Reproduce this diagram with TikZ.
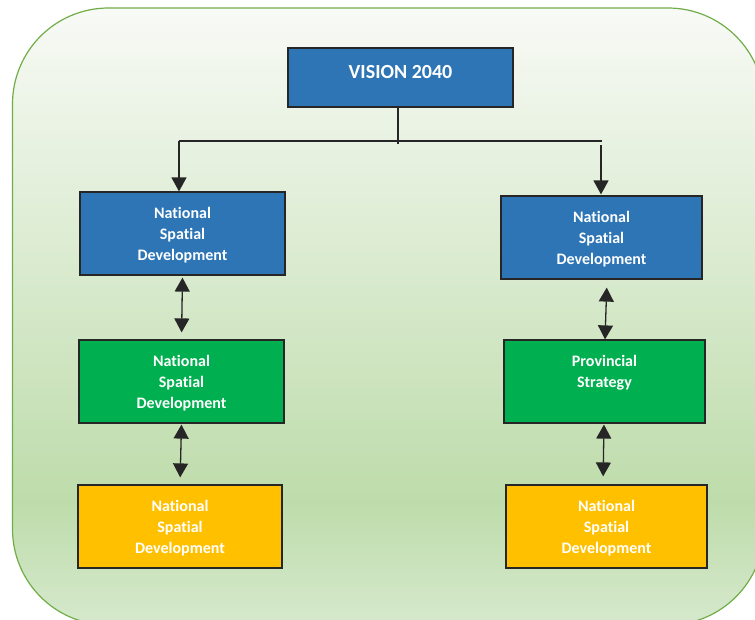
\documentclass[tikz,border=0pt]{standalone}
\usepackage{fontspec}
\setmainfont{Carlito}[Ligatures=NoCommon]
\usetikzlibrary{arrows.meta,positioning}

\definecolor{visionblue}{HTML}{2E75B6}
\definecolor{plangreen}{HTML}{00B050}
\definecolor{planyellow}{HTML}{FFC000}
\definecolor{frameborder}{HTML}{70AD47}
\definecolor{bgtop}{HTML}{F8FAF6}
\definecolor{bgmid}{HTML}{BEDCAB}
\definecolor{bgbot}{HTML}{D6E9CD}
\definecolor{linkgray}{HTML}{262626}

\pgfdeclareverticalshading{framefill}{100bp}{color(0bp)=(bgbot); color(25bp)=(bgbot); color(35bp)=(bgmid); color(75bp)=(bgtop); color(100bp)=(bgtop)}

\tikzset{
  planbox/.style={draw=linkgray, line width=1.2pt, inner sep=0pt, text=white, align=center,
    minimum height=83pt, font=\bfseries\fontsize{16}{21}\selectfont},
  levelbox/.style={planbox, text depth=-2.5pt},
  connector/.style={draw=linkgray, line width=1.3pt},
  downarrow/.style={connector, -{Triangle[width=15pt,length=14pt]}},
  twoarrow/.style={connector, {Triangle[width=15pt,length=14pt]}-{Triangle[width=15pt,length=14pt]}}
}

\begin{document}
\begin{tikzpicture}[x=1pt,y=-1pt]
			\useasboundingbox (0,0) rectangle (755,619);

			% rounded frame behind everything
			\begin{scope}
				\clip (0,0) rectangle (755,619);
				\path[shading=framefill, draw=frameborder, line width=1.2pt, rounded corners=96pt]
					(12.5,8) rectangle (764,625);
			\end{scope}

			% boxes
			\node[planbox, fill=visionblue, minimum width=225pt, minimum height=59pt,
				text depth=11pt, font=\bfseries\fontsize{20}{24}\selectfont] (vision) at (400.5,77.5) {VISION 2040};

			\node[levelbox, fill=visionblue, minimum width=205pt] (leftnat) at (182.5,233.5) {National\\Spatial\\Development};
			\node[levelbox, fill=plangreen, minimum width=205pt] (leftmid) at (181.5,381.5) {National\\Spatial\\Development};
			\node[levelbox, fill=planyellow, minimum width=204pt] (leftlow) at (180,526.5) {National\\Spatial\\Development};

			\node[levelbox, fill=visionblue, minimum width=201pt] (rightnat) at (601.5,237.5) {National\\Spatial\\Development};
			\node[levelbox, fill=plangreen, minimum width=201pt] (rightmid) at (604.5,381.5) {Provincial\\Strategy\\\vphantom{p}};
			\node[levelbox, fill=planyellow, minimum width=201pt] (rightlow) at (606.5,526.5) {National\\Spatial\\Development};

			% split below the vision box
			\coordinate (split) at (398,144);
			\coordinate (leftcorner) at (179,141);
			\coordinate (rightcorner) at (602,141);
			\coordinate (rightdrop) at (601,145);

			\draw[connector] (vision.south -| split) -- (split);
			\draw[connector] (leftcorner) -- (rightcorner);
			\draw[downarrow] (leftcorner) -- (leftcorner |- leftnat.north);
			\draw[downarrow, shorten >=1pt] (rightdrop) -- (rightdrop |- rightnat.north);

			% links between the levels
			\draw[twoarrow, shorten <=2pt, shorten >=7pt] (leftnat.south) -- (leftmid.north);
			\draw[twoarrow, shorten <=1pt, shorten >=7pt] (leftmid.south) -- (leftlow.north);
			\draw[twoarrow, shorten <=8pt] (rightnat.south -| 607,0) -- (rightmid.north -| 605,0);
			\draw[twoarrow, shorten <=1pt, shorten >=8pt] (rightmid.south -| 604,0) -- (rightlow.north -| 603,0);

		\end{tikzpicture}
\end{document}
